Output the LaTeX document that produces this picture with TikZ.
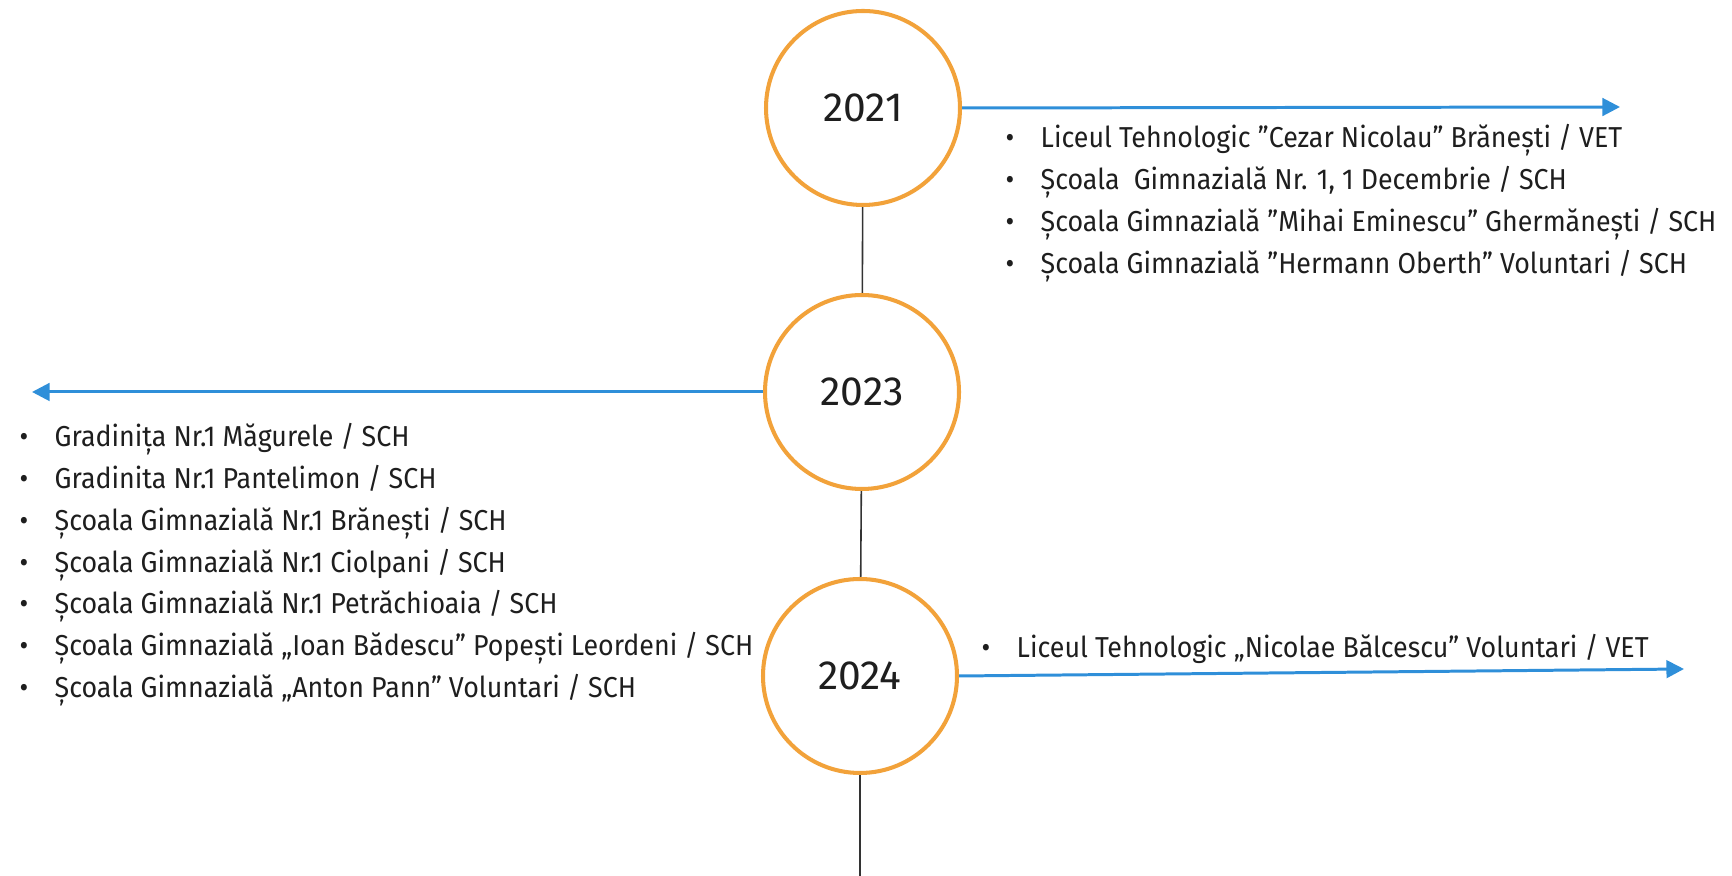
\documentclass[tikz,border=0pt]{standalone}
\usepackage{fontspec}
\setmainfont{Fira Sans}
\newfontfamily\listfont[FakeStretch=0.93]{Fira Sans}
\usetikzlibrary{arrows.meta, positioning}
\definecolor{corange}{HTML}{F2A23A}
\definecolor{cblue}{HTML}{2F8FD9}
\definecolor{ctext}{HTML}{1E1E1E}
\definecolor{cline}{HTML}{333333}
\newcommand{\itembullet}{\makebox[0.35cm][l]{•}}

\begin{document}
\begin{tikzpicture}
    \useasboundingbox (0,0) rectangle (17.32,-8.76);
    \begin{scope}[every node/.style={circle, draw=corange, line width=1.15pt, fill=white, minimum size=1.94cm, inner sep=0pt, font=\fontsize{11.6}{14}\selectfont\color{ctext}}]
        \node (y2021) at (8.63,-1.08) {2021};
        \node (y2023) at (8.62,-3.92) {2023};
        \node (y2024) at (8.60,-6.76) {2024};
    \end{scope}
    \coordinate (yend) at (8.60,-8.76);
    \draw[cline, line width=0.45pt] (y2021) -- (y2023) (y2023) -- (y2024) (y2024) -- (yend);
    % arrows to the lists
    \coordinate (a2021) at (16.20,-1.07);
    \coordinate (a2023) at (0.32,-3.92);
    \coordinate (a2024) at (16.84,-6.69);
    \begin{scope}[cblue, line width=0.85pt, -{Triangle[length=5pt, width=5pt]}]
        \draw (y2021.east) -- (a2021);
        \draw (y2023.west) -- (a2023);
        \draw (y2024.east) -- (a2024);
    \end{scope}
    \begin{scope}[every node/.style={anchor=base west, inner sep=0pt, font=\listfont\fontsize{8.2}{10}\selectfont\color{ctext}}]
        \foreach \t [count=\i] in {{Liceul Tehnologic ”Cezar Nicolau” Brănești / VET},
                {Școala\ \ Gimnazială Nr. 1, 1 Decembrie / SCH},
                {Școala Gimnazială ”Mihai Eminescu” Ghermănești / SCH},
                {Școala Gimnazială ”Hermann Oberth” Voluntari / SCH}}
            \node (r\i) at (10.05,{-1.48-0.417*(\i-1)}) {\itembullet\t};
        \foreach \t [count=\i] in {{Gradinița Nr.1 Măgurele / SCH},
                {Gradinita Nr.1 Pantelimon / SCH},
                {Școala Gimnazială Nr.1 Brănești / SCH},
                {Școala Gimnazială Nr.1 Ciolpani / SCH},
                {Școala Gimnazială Nr.1 Petrăchioaia / SCH},
                {Școala Gimnazială „Ioan Bădescu” Popești Leordeni / SCH},
                {Școala Gimnazială „Anton Pann” Voluntari / SCH}}
            \node (l\i) at (0.19,{-4.47-0.417*(\i-1)}) {\itembullet\t};
        \node (v1) at (9.81,-6.58) {\itembullet Liceul Tehnologic „Nicolae Bălcescu” Voluntari / VET};
    \end{scope}
\end{tikzpicture}
\end{document}
